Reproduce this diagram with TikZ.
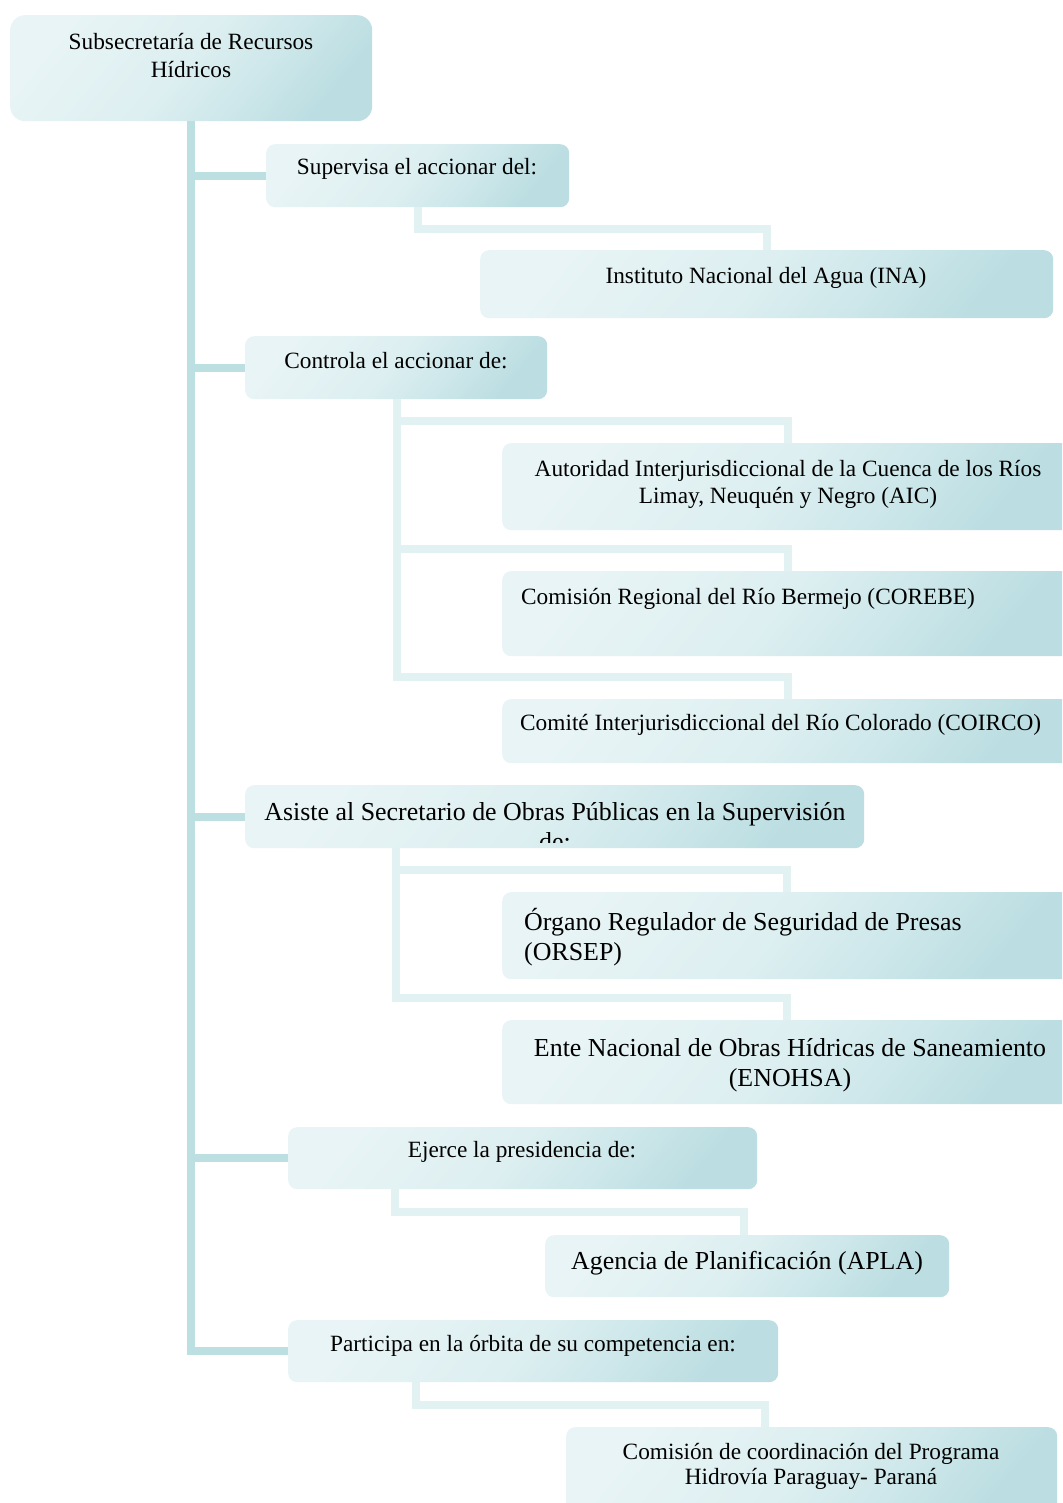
\documentclass[tikz,border=0pt]{standalone}
\usepackage{fontspec}
\setmainfont{Liberation Serif}
\definecolor{boxlight}{HTML}{E8F4F5}
\definecolor{boxmid}{HTML}{DDEFF1}
\definecolor{boxmid2}{HTML}{CDE7EA}
\definecolor{boxdark}{HTML}{BCDEE2}
\definecolor{trunkc}{HTML}{BCDFE2}
\definecolor{subc}{HTML}{E2F1F2}
\pgfdeclareverticalshading{boxshade}{100bp}{color(0bp)=(boxdark); color(25bp)=(boxdark); color(38bp)=(boxmid2); color(52bp)=(boxmid); color(75bp)=(boxlight); color(100bp)=(boxlight)}
\tikzset{
  box/.style={rounded corners=9pt, shading=boxshade, shading angle=50, inner sep=0pt, anchor=north west},
  trunk/.style={draw=trunkc, line width=8pt, line join=miter},
  sub/.style={draw=subc, line width=8pt, line join=miter},
  lbl/.style={font=\fontsize{23.3}{28}\selectfont, align=center, inner sep=0pt, text=black, yshift=-2pt},
  big/.style={font=\fontsize{25.9}{30}\selectfont, align=center, inner sep=0pt, text=black, yshift=-2pt}
}
\begin{document}
\begin{tikzpicture}[x=1pt,y=-1pt]
\useasboundingbox (0,0) rectangle (1062,1503);
\clip (0,0) rectangle (1062,1503);
\fill[white] (0,0) rectangle (1062,1503);

% boxes
\node[box, rounded corners=15pt, minimum width=362pt, minimum height=106pt] (root) at (10,15) {};
\node[box, minimum width=303pt, minimum height=63pt] (sup) at (266,144) {};
\node[box, minimum width=573pt, minimum height=68pt] (ina) at (480,250) {};
\node[box, minimum width=302pt, minimum height=63pt] (con) at (245,336) {};
\node[box, minimum width=572pt, minimum height=87pt] (aic) at (502,443) {};
\node[box, minimum width=572pt, minimum height=85pt] (cor) at (502,571) {};
\node[box, minimum width=572pt, minimum height=64pt] (coi) at (502,699) {};
\node[box, minimum width=619pt, minimum height=63pt] (asi) at (245,785) {};
\node[box, minimum width=572pt, minimum height=87pt] (ors) at (502,892) {};
\node[box, minimum width=572pt, minimum height=84pt] (eno) at (502,1020) {};
\node[box, minimum width=469pt, minimum height=62pt] (eje) at (288,1127) {};
\node[box, minimum width=404pt, minimum height=62pt] (apl) at (545,1235) {};
\node[box, minimum width=490pt, minimum height=62pt] (par) at (288,1320) {};
\node[box, minimum width=491pt, minimum height=90pt] (com) at (566,1427) {};

% trunk connectors
\draw[trunk] (root.south) |- (sup.west);
\draw[trunk] (root.south) |- (con.west);
\draw[trunk] (root.south) |- (asi.west);
\draw[trunk] (root.south) |- (eje.west);
\draw[trunk] (root.south) |- (par.west);

% secondary connectors
\draw[sub] ([xshift=151.5pt]sup.south west) |- ([yshift=21pt]ina.north) -- (ina.north);
\draw[sub] ([xshift=151.5pt]con.south west) |- ([yshift=22pt]aic.north) -- (aic.north);
\draw[sub] ([xshift=151.5pt]con.south west) |- ([yshift=22pt]cor.north) -- (cor.north);
\draw[sub] ([xshift=151.5pt]con.south west) |- ([yshift=22pt]coi.north) -- (coi.north);
\draw[sub] ([xshift=150.5pt]asi.south west) |- ([xshift=-1pt,yshift=22pt]ors.north) -- ([xshift=-1pt]ors.north);
\draw[sub] ([xshift=150.5pt]asi.south west) |- ([xshift=-1pt,yshift=22pt]eno.north) -- ([xshift=-1pt]eno.north);
\draw[sub] ([xshift=107pt]eje.south west) |- ([xshift=-3pt,yshift=23pt]apl.north) -- ([xshift=-3pt]apl.north);
\draw[sub] ([xshift=128pt]par.south west) |- ([xshift=-46.5pt,yshift=22pt]com.north) -- ([xshift=-46.5pt]com.north);

% texts
\node[lbl] (troot) at (191,54) {Subsecretaría de Recursos\\Hídricos};
\node[lbl] (tsup) at (417,167) {Supervisa el accionar del:};
\node[lbl] (tina) at (766,276) {Instituto Nacional del Agua (INA)};
\node[lbl] (tcon) at (396,359) {Controla el accionar de:};
\node[lbl, font=\fontsize{23.3}{27.5}\selectfont] (taic) at (788,482.5) {Autoridad Interjurisdiccional de la Cuenca de los Ríos\\Limay, Neuquén y Negro (AIC)};
\node[lbl, anchor=west] (tcor) at (521,597) {Comisión Regional del Río Bermejo (COREBE)};
\node[lbl, anchor=west] (tcoi) at (520,723) {Comité Interjurisdiccional del Río Colorado (COIRCO)};
\begin{scope}
\clip (245,785) rectangle (864,842);
\node[big] (tasi) at (555,825) {Asiste al Secretario de Obras Públicas en la Supervisión\\de:};
\end{scope}
\node[big, align=left, anchor=west] (tors) at (524,935) {Órgano Regulador de Seguridad de Presas\\(ORSEP)};
\node[big] (teno) at (790,1063) {Ente Nacional de Obras Hídricas de Saneamiento\\(ENOHSA)};
\node[lbl] (teje) at (522,1150) {Ejerce la presidencia de:};
\node[big] (tapl) at (747,1261) {Agencia de Planificación (APLA)};
\node[lbl] (tpar) at (533,1344) {Participa en la órbita de su competencia en:};
\node[lbl, font=\fontsize{23.3}{25.5}\selectfont] (tcom) at (811,1464.5) {Comisión de coordinación del Programa\\Hidrovía Paraguay- Paraná};
\end{tikzpicture}
\end{document}
